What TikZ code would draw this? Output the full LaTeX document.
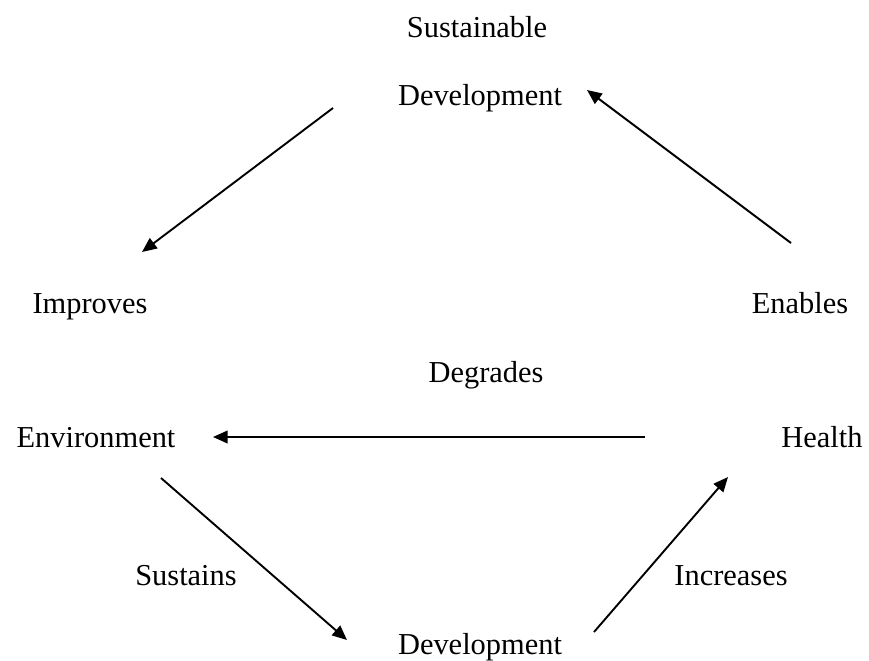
\documentclass[tikz,border=0pt]{standalone}
\usepackage{fontspec}
\setmainfont{Liberation Serif}
\usetikzlibrary{arrows.meta}

\begin{document}
\begin{tikzpicture}[x=0.3945pt,y=-0.3945pt,
  lbl/.style={anchor=base,font=\fontsize{12}{14}\selectfont},
  link/.style={line width=0.75pt,-{Triangle[length=5.8pt,width=5pt]}}]

\useasboundingbox (0,0) rectangle (869,660);

% cycle at the top
\node[lbl] (sust) at (477,37) {Sustainable};
\node[lbl] (sdev) at (480,105) {Development};
\node[lbl] (impr) at (90,313) {Improves};
\node[lbl] (enab) at (800,313) {Enables};

% triangle at the bottom
\node[lbl] (degr) at (486,382) {Degrades};
\node[lbl] (envi) at (96,447) {Environment};
\node[lbl] (heal) at (822,447) {Health};
\node[lbl] (sustn) at (186,585) {Sustains};
\node[lbl] (incr) at (731,585) {Increases};
\node[lbl] (devl) at (480,654) {Development};

\coordinate (a1) at (333,108);
\coordinate (a2) at (142,252);
\coordinate (b1) at (791,243);
\coordinate (b2) at (587,90);
\coordinate (c1) at (645,437);
\coordinate (c2) at (213,437);
\coordinate (d1) at (161,478);
\coordinate (d2) at (347,640);
\coordinate (e1) at (594,632);
\coordinate (e2) at (728,477);

\draw[link] (a1)--(a2);
\draw[link] (b1)--(b2);
\draw[link] (c1)--(c2);
\draw[link] (d1)--(d2);
\draw[link] (e1)--(e2);

\end{tikzpicture}
\end{document}
